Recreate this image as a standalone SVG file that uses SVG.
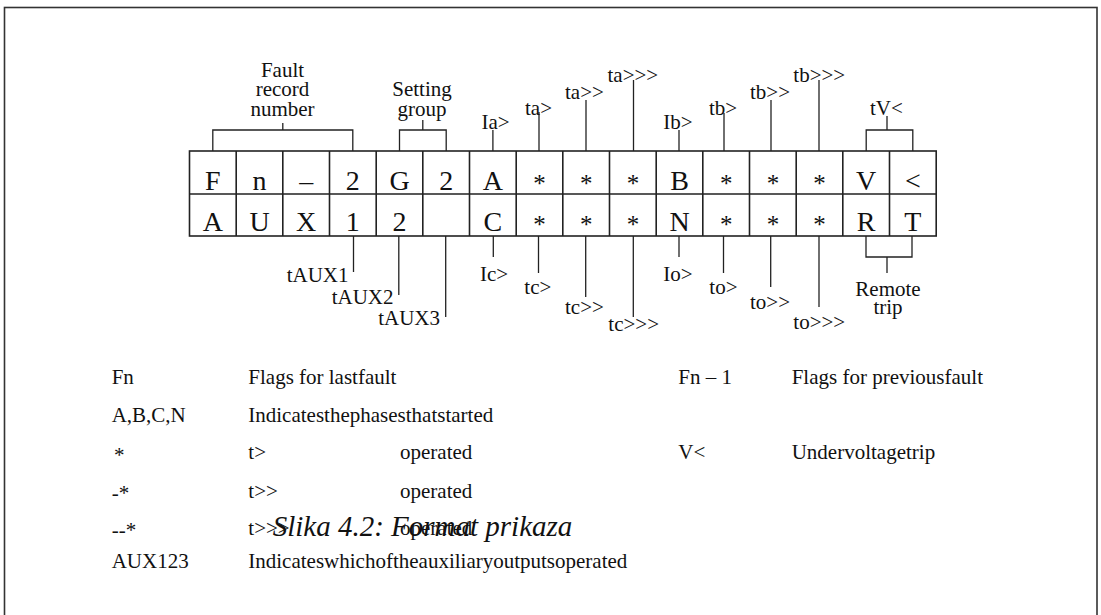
<svg xmlns="http://www.w3.org/2000/svg" width="1101" height="615" viewBox="0 0 1101 615">
<style>
text{font-family:"Liberation Serif","Times New Roman",serif;fill:#111}
.cell{font-size:28px;text-anchor:middle}
.ast{font-size:25px;text-anchor:middle}
.lbl{font-size:21px}
.mid{text-anchor:middle}
.end{text-anchor:end}
.leg{font-size:21px}
.cap{font-size:29px;font-style:italic}
.grid{fill:none;stroke:#222;stroke-width:1.6}
.con{fill:none;stroke:#222;stroke-width:1.3}
</style>
<rect x="4.5" y="7.5" width="1092.5" height="700" fill="#fff" stroke="#333" stroke-width="1.6"/>

<g id="register">
  <rect class="grid" x="189.5" y="151" width="746.7" height="85"/>
  <path class="grid" d="M189.5 194H936.2 M236.2 151V236 M282.8 151V236 M329.5 151V236 M376.2 151V236 M422.8 151V236 M469.5 151V236 M516.2 151V236 M562.8 151V236 M609.5 151V236 M656.2 151V236 M702.8 151V236 M749.5 151V236 M796.2 151V236 M842.8 151V236 M889.5 151V236"/>
  <text class="cell" x="212.8" y="189.5">F</text>
  <text class="cell" x="259.5" y="189.5">n</text>
  <text class="cell" x="306.2" y="189.5">–</text>
  <text class="cell" x="352.8" y="189.5">2</text>
  <text class="cell" x="399.5" y="189.5">G</text>
  <text class="cell" x="446.2" y="189.5">2</text>
  <text class="cell" x="492.9" y="189.5">A</text>
  <text class="ast" x="539.6" y="191.5">*</text>
  <text class="ast" x="586.2" y="191.5">*</text>
  <text class="ast" x="632.9" y="191.5">*</text>
  <text class="cell" x="679.5" y="189.5">B</text>
  <text class="ast" x="726.2" y="191.5">*</text>
  <text class="ast" x="772.9" y="191.5">*</text>
  <text class="ast" x="819.5" y="191.5">*</text>
  <text class="cell" x="866.2" y="189.5">V</text>
  <text class="cell" x="912.8" y="189.5">&lt;</text>
  <text class="cell" x="212.8" y="231">A</text>
  <text class="cell" x="259.5" y="231">U</text>
  <text class="cell" x="306.2" y="231">X</text>
  <text class="cell" x="352.8" y="231">1</text>
  <text class="cell" x="399.5" y="231">2</text>
  <text class="cell" x="492.9" y="231">C</text>
  <text class="ast" x="539.6" y="232.5">*</text>
  <text class="ast" x="586.2" y="232.5">*</text>
  <text class="ast" x="632.9" y="232.5">*</text>
  <text class="cell" x="679.5" y="231">N</text>
  <text class="ast" x="726.2" y="232.5">*</text>
  <text class="ast" x="772.9" y="232.5">*</text>
  <text class="ast" x="819.5" y="232.5">*</text>
  <text class="cell" x="866.2" y="231">R</text>
  <text class="cell" x="912.8" y="231">T</text>
</g>

<g id="connectors">
  <path class="con" d="M282.8 123V130 M212.8 151V130H352.8V151"/>
  <path class="con" d="M422.8 120V130 M399.5 151V130H446.2V151"/>
  <path class="con" d="M492.9 130V151"/>
  <path class="con" d="M539 112V151"/>
  <path class="con" d="M586 100V151"/>
  <path class="con" d="M633.5 80V151"/>
  <path class="con" d="M679 130V151"/>
  <path class="con" d="M724 113V151"/>
  <path class="con" d="M771 100V151"/>
  <path class="con" d="M819 80V151"/>
  <path class="con" d="M887 116V130 M866.2 151V130H912.8V151"/>
  <path class="con" d="M353.5 236V272"/>
  <path class="con" d="M398.8 236V295"/>
  <path class="con" d="M445.7 236V317"/>
  <path class="con" d="M493.3 236V257"/>
  <path class="con" d="M538.5 236V273"/>
  <path class="con" d="M585.7 236V297"/>
  <path class="con" d="M633.3 236V317"/>
  <path class="con" d="M679 236V257"/>
  <path class="con" d="M723.5 236V273"/>
  <path class="con" d="M770.7 236V287"/>
  <path class="con" d="M819 236V307"/>
  <path class="con" d="M866 236V257H912V236 M887 257V273"/>
</g>

<g id="label-fault-record-number">
  <text class="lbl mid" x="282.5" y="77">Fault</text>
  <text class="lbl mid" x="282.5" y="96">record</text>
  <text class="lbl mid" x="282.5" y="116">number</text>
</g>
<g id="label-setting-group">
  <text class="lbl mid" x="422" y="96">Setting</text>
  <text class="lbl mid" x="422" y="115.5">group</text>
</g>
<g id="label-ia"><text class="lbl" x="481.5" y="129">Ia&gt;</text></g>
<g id="label-ta1"><text class="lbl" x="525" y="115">ta&gt;</text></g>
<g id="label-ta2"><text class="lbl" x="565" y="98.5">ta&gt;&gt;</text></g>
<g id="label-ta3"><text class="lbl" x="607.5" y="81.5">ta&gt;&gt;&gt;</text></g>
<g id="label-ib"><text class="lbl" x="663.3" y="129">Ib&gt;</text></g>
<g id="label-tb1"><text class="lbl" x="709" y="115">tb&gt;</text></g>
<g id="label-tb2"><text class="lbl" x="750" y="98.5">tb&gt;&gt;</text></g>
<g id="label-tb3"><text class="lbl" x="793.3" y="81.5">tb&gt;&gt;&gt;</text></g>
<g id="label-tv"><text class="lbl" x="870" y="115">tV&lt;</text></g>

<g id="label-taux1"><text class="lbl end" x="348.5" y="281.5">tAUX1</text></g>
<g id="label-taux2"><text class="lbl end" x="393.5" y="303.5">tAUX2</text></g>
<g id="label-taux3"><text class="lbl end" x="440" y="325">tAUX3</text></g>
<g id="label-ic"><text class="lbl" x="480" y="280.5">Ic&gt;</text></g>
<g id="label-tc1"><text class="lbl" x="524.3" y="293.5">tc&gt;</text></g>
<g id="label-tc2"><text class="lbl" x="565" y="313.5">tc&gt;&gt;</text></g>
<g id="label-tc3"><text class="lbl" x="608.3" y="331">tc&gt;&gt;&gt;</text></g>
<g id="label-io"><text class="lbl" x="663.3" y="280.5">Io&gt;</text></g>
<g id="label-to1"><text class="lbl" x="709.3" y="294">to&gt;</text></g>
<g id="label-to2"><text class="lbl" x="750" y="308.5">to&gt;&gt;</text></g>
<g id="label-to3"><text class="lbl" x="793.3" y="328.5">to&gt;&gt;&gt;</text></g>
<g id="label-remote-trip">
  <text class="lbl mid" x="888" y="296">Remote</text>
  <text class="lbl mid" x="888" y="314">trip</text>
</g>

<g id="legend">
  <text class="leg" x="111.7" y="384">Fn</text>
  <text class="leg" x="248.3" y="384">Flags for lastfault</text>
  <text class="leg" x="678.3" y="384">Fn – 1</text>
  <text class="leg" x="791.7" y="384">Flags for previousfault</text>
  <text class="leg" x="111.7" y="422">A,B,C,N</text>
  <text class="leg" x="248.3" y="422">Indicatesthephasesthatstarted</text>
  <text class="leg" x="114" y="462" fill="#444">*</text>
  <text class="leg" x="248.3" y="459">t&gt;</text>
  <text class="leg" x="400" y="459">operated</text>
  <text class="leg" x="678.3" y="459">V&lt;</text>
  <text class="leg" x="791.7" y="459">Undervoltagetrip</text>
  <text class="leg" x="111.7" y="500" fill="#444">-*</text>
  <text class="leg" x="248.3" y="497.5">t&gt;&gt;</text>
  <text class="leg" x="400" y="497.5">operated</text>
  <text class="leg" x="111.7" y="537" fill="#444">--*</text>
  <text class="leg" x="248.3" y="535">t&gt;&gt;&gt;</text>
  <text class="leg" x="400" y="535">operated</text>
  <text class="leg" x="111.7" y="567.5">AUX123</text>
  <text class="leg" x="248.3" y="567.5">Indicateswhichoftheauxiliaryoutputsoperated</text>
</g>

<g id="caption">
  <text class="cap" x="272.7" y="536">Slika 4.2: Format prikaza</text>
</g>
</svg>
